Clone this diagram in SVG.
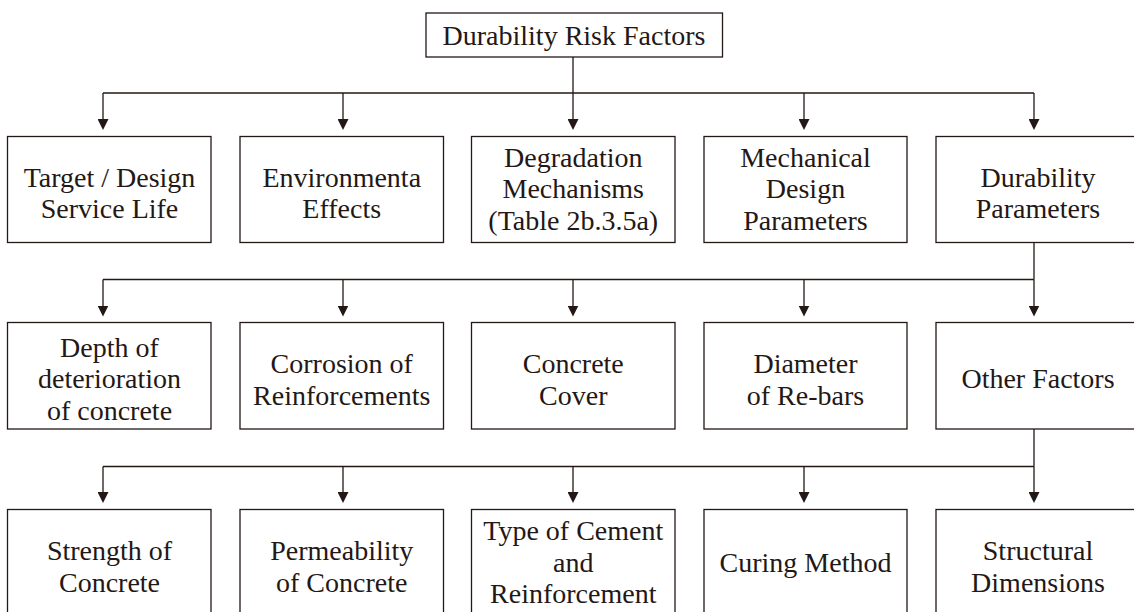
<svg xmlns="http://www.w3.org/2000/svg" width="1134" height="612" viewBox="0 0 1134 612">
<style>
.box{fill:#fff;stroke:#231815;stroke-width:1.3}
.lbl{font-family:"Liberation Serif","Times New Roman",serif;font-size:28px;fill:#231815;text-anchor:middle}
.ln{fill:none;stroke:#231815;stroke-width:1.3}
.ar{fill:none;stroke:#231815;stroke-width:1.3;marker-end:url(#ah)}
</style>
<defs>
<marker id="ah" markerUnits="userSpaceOnUse" markerWidth="11" markerHeight="11" viewBox="0 0 11 11" refX="6" refY="5.5" orient="auto">
<path d="M0,0 L11,5.5 L0,11 Z" fill="#231815"/>
</marker>
</defs>
<rect width="1134" height="612" fill="#fff"/>

<g id="connectors">
<line class="ln" x1="573" y1="57" x2="573" y2="93"/>
<line class="ln" x1="103" y1="93" x2="1034" y2="93"/>
<line class="ar" x1="103" y1="93" x2="103" y2="125"/>
<line class="ar" x1="343" y1="93" x2="343" y2="125"/>
<line class="ar" x1="573" y1="93" x2="573" y2="125"/>
<line class="ar" x1="804" y1="93" x2="804" y2="125"/>
<line class="ar" x1="1034" y1="93" x2="1034" y2="125"/>

<line class="ln" x1="1034" y1="242.5" x2="1034" y2="279.5"/>
<line class="ln" x1="103" y1="279.5" x2="1034" y2="279.5"/>
<line class="ar" x1="103" y1="279.5" x2="103" y2="311.5"/>
<line class="ar" x1="343" y1="279.5" x2="343" y2="311.5"/>
<line class="ar" x1="573" y1="279.5" x2="573" y2="311.5"/>
<line class="ar" x1="804" y1="279.5" x2="804" y2="311.5"/>
<line class="ar" x1="1034" y1="279.5" x2="1034" y2="311.5"/>

<line class="ln" x1="1034" y1="429" x2="1034" y2="466.5"/>
<line class="ln" x1="103" y1="466.5" x2="1034" y2="466.5"/>
<line class="ar" x1="103" y1="466.5" x2="103" y2="498"/>
<line class="ar" x1="343" y1="466.5" x2="343" y2="498"/>
<line class="ar" x1="573" y1="466.5" x2="573" y2="498"/>
<line class="ar" x1="804" y1="466.5" x2="804" y2="498"/>
<line class="ar" x1="1034" y1="466.5" x2="1034" y2="498"/>
</g>

<g id="root">
<rect class="box" x="426" y="13" width="296.5" height="44"/>
<text class="lbl" x="574" y="45">Durability Risk Factors</text>
</g>

<g id="target-design-service-life">
<rect class="box" x="7.5" y="136.5" width="203.5" height="106"/>
<text class="lbl" x="109.5" y="186.7">Target / Design</text>
<text class="lbl" x="109.5" y="218.3">Service Life</text>
</g>
<g id="environmental-effects">
<rect class="box" x="240" y="136.5" width="203.5" height="106"/>
<text class="lbl" x="341.75" y="186.7">Environmenta</text>
<text class="lbl" x="341.75" y="218.3">Effects</text>
</g>
<g id="degradation-mechanisms">
<rect class="box" x="471.5" y="136.5" width="203.5" height="106"/>
<text class="lbl" x="573.25" y="166.7">Degradation</text>
<text class="lbl" x="573.25" y="198.3">Mechanisms</text>
<text class="lbl" x="573.25" y="230">(Table 2b.3.5a)</text>
</g>
<g id="mechanical-design-parameters">
<rect class="box" x="704" y="136.5" width="203" height="106"/>
<text class="lbl" x="805.5" y="166.7">Mechanical</text>
<text class="lbl" x="805.5" y="198.3">Design</text>
<text class="lbl" x="805.5" y="230">Parameters</text>
</g>
<g id="durability-parameters">
<rect class="box" x="936" y="136.5" width="204" height="106"/>
<text class="lbl" x="1038" y="186.7">Durability</text>
<text class="lbl" x="1038" y="218.3">Parameters</text>
</g>

<g id="depth-of-deterioration">
<rect class="box" x="7.5" y="322.5" width="203.5" height="106.5"/>
<text class="lbl" x="109.5" y="356.7">Depth of</text>
<text class="lbl" x="109.5" y="388.3">deterioration</text>
<text class="lbl" x="109.5" y="420">of concrete</text>
</g>
<g id="corrosion-of-reinforcements">
<rect class="box" x="240" y="322.5" width="203.5" height="106.5"/>
<text class="lbl" x="341.75" y="373.3">Corrosion of</text>
<text class="lbl" x="341.75" y="405">Reinforcements</text>
</g>
<g id="concrete-cover">
<rect class="box" x="471.5" y="322.5" width="203.5" height="106.5"/>
<text class="lbl" x="573.25" y="373.3">Concrete</text>
<text class="lbl" x="573.25" y="405">Cover</text>
</g>
<g id="diameter-of-rebars">
<rect class="box" x="704" y="322.5" width="203" height="106.5"/>
<text class="lbl" x="805.5" y="373.3">Diameter</text>
<text class="lbl" x="805.5" y="405">of Re-bars</text>
</g>
<g id="other-factors">
<rect class="box" x="936" y="322.5" width="204" height="106.5"/>
<text class="lbl" x="1038" y="388">Other Factors</text>
</g>

<g id="strength-of-concrete">
<rect class="box" x="7.5" y="509.5" width="203.5" height="110"/>
<text class="lbl" x="109.5" y="560">Strength of</text>
<text class="lbl" x="109.5" y="591.7">Concrete</text>
</g>
<g id="permeability-of-concrete">
<rect class="box" x="240" y="509.5" width="203.5" height="110"/>
<text class="lbl" x="341.75" y="560">Permeability</text>
<text class="lbl" x="341.75" y="591.7">of Concrete</text>
</g>
<g id="type-of-cement">
<rect class="box" x="471.5" y="509.5" width="203.5" height="110"/>
<text class="lbl" x="573.25" y="540">Type of Cement</text>
<text class="lbl" x="573.25" y="571.7">and</text>
<text class="lbl" x="573.25" y="603.3">Reinforcement</text>
</g>
<g id="curing-method">
<rect class="box" x="704" y="509.5" width="203" height="110"/>
<text class="lbl" x="805.5" y="571.7">Curing Method</text>
</g>
<g id="structural-dimensions">
<rect class="box" x="936" y="509.5" width="204" height="110"/>
<text class="lbl" x="1038" y="560">Structural</text>
<text class="lbl" x="1038" y="591.7">Dimensions</text>
</g>
</svg>
